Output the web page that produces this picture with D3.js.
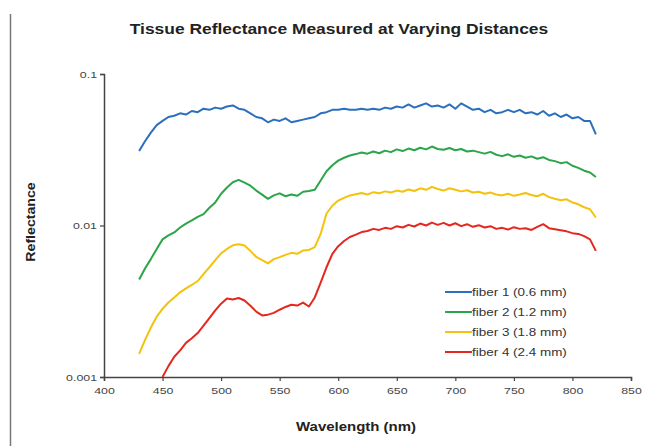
<!DOCTYPE html>
<html>
<head>
<meta charset="utf-8">
<script src="https://cdn.jsdelivr.net/npm/d3@7"></script>
<style>
  body { margin: 0; background: #fff; }
  text { font-family: "Liberation Sans", Arial, sans-serif; }
</style>
</head>
<body>
<svg id="chart" width="660" height="446"></svg>
<script>
// wavelengths every 5 nm
const wlMain = d3.range(430, 821, 5)
const wlRed = d3.range(450, 821, 5)

const fiber1 = [0.031, 0.036, 0.041, 0.046, 0.049, 0.052, 0.053, 0.055, 0.054, 0.057,
  0.056, 0.059, 0.058, 0.060, 0.059, 0.061, 0.062, 0.059, 0.058, 0.055,
  0.052, 0.051, 0.048, 0.050, 0.049, 0.051, 0.048, 0.049, 0.050, 0.051,
  0.052, 0.055, 0.056, 0.058, 0.058, 0.059, 0.058, 0.058, 0.059, 0.058,
  0.059, 0.058, 0.060, 0.059, 0.061, 0.060, 0.063, 0.060, 0.062, 0.064,
  0.061, 0.062, 0.060, 0.063, 0.059, 0.064, 0.061, 0.058, 0.059, 0.056,
  0.058, 0.055, 0.056, 0.058, 0.056, 0.058, 0.055, 0.056, 0.054, 0.057,
  0.053, 0.055, 0.052, 0.054, 0.051, 0.052, 0.049, 0.049, 0.040]

const fiber2 = [0.0044, 0.0052, 0.0060, 0.0070, 0.0081, 0.0086, 0.0090, 0.0097, 0.0103, 0.0108,
  0.0114, 0.0119, 0.0131, 0.0142, 0.0162, 0.0178, 0.0193, 0.0200, 0.0192, 0.0183,
  0.0170, 0.0160, 0.0150, 0.0158, 0.0163, 0.0156, 0.0160, 0.0157, 0.0167, 0.0169,
  0.0172, 0.0198, 0.0228, 0.0250, 0.0268, 0.0280, 0.0290, 0.0296, 0.0303, 0.0298,
  0.0308, 0.0300, 0.0312, 0.0305, 0.0318, 0.0310, 0.0322, 0.0314, 0.0326, 0.0318,
  0.0332, 0.0320, 0.0316, 0.0325, 0.0314, 0.0320, 0.0308, 0.0312, 0.0305, 0.0298,
  0.0306, 0.0293, 0.0287, 0.0295, 0.0284, 0.0290, 0.0280, 0.0286, 0.0276, 0.0282,
  0.0271, 0.0266, 0.0258, 0.0262, 0.0248, 0.0240, 0.0230, 0.0224, 0.0209]

const fiber3 = [0.00142, 0.00175, 0.00212, 0.00250, 0.00282, 0.00310, 0.00335, 0.00362, 0.00385, 0.00405,
  0.00430, 0.00478, 0.00530, 0.00590, 0.00655, 0.00700, 0.00740, 0.00752, 0.00738, 0.00680,
  0.00620, 0.00590, 0.00562, 0.00600, 0.00618, 0.00640, 0.00660, 0.00650, 0.00685, 0.00690,
  0.00720, 0.00880, 0.01200, 0.01350, 0.01460, 0.01520, 0.01580, 0.01610, 0.01640, 0.01600,
  0.01660, 0.01630, 0.01680, 0.01650, 0.01700, 0.01670, 0.01730, 0.01690, 0.01760, 0.01720,
  0.01800, 0.01740, 0.01700, 0.01760, 0.01720, 0.01680, 0.01710, 0.01650, 0.01670, 0.01620,
  0.01650, 0.01600, 0.01580, 0.01620, 0.01570, 0.01600, 0.01640, 0.01590, 0.01560, 0.01620,
  0.01540, 0.01500, 0.01470, 0.01490, 0.01420, 0.01380, 0.01320, 0.01280, 0.01130]

const fiber4 = [0.00100, 0.00118, 0.00136, 0.00150, 0.00168, 0.00180, 0.00195, 0.00218, 0.00245, 0.00275,
  0.00305, 0.00330, 0.00325, 0.00332, 0.00320, 0.00295, 0.00270, 0.00255, 0.00258, 0.00265,
  0.00278, 0.00290, 0.00300, 0.00296, 0.00310, 0.00292, 0.00335, 0.00420, 0.00530, 0.00650,
  0.00730, 0.00790, 0.00840, 0.00870, 0.00905, 0.00920, 0.00950, 0.00935, 0.00965, 0.00950,
  0.00990, 0.00970, 0.01010, 0.00985, 0.01030, 0.01000, 0.01045, 0.01010, 0.01040, 0.01000,
  0.01035, 0.00990, 0.01020, 0.00980, 0.01005, 0.00970, 0.00990, 0.00950, 0.00965, 0.00940,
  0.00975, 0.00950, 0.00960, 0.00935, 0.00980, 0.01020, 0.00960, 0.00945, 0.00930, 0.00915,
  0.00890, 0.00880, 0.00850, 0.00810, 0.00680]

const seriesNames = ['fiber 1 (0.6 mm)', 'fiber 2 (1.2 mm)', 'fiber 3 (1.8 mm)', 'fiber 4 (2.4 mm)']
const seriesColors = ['#2b6fbd', '#2aa54a', '#f4c20d', '#e5281f']
const xTicks = [400, 450, 500, 550, 600, 650, 700, 750, 800, 850]
const yTicks = [0.001, 0.01, 0.1]

const series = [
  { name: seriesNames[0], color: seriesColors[0], wl: wlMain, v: fiber1 },
  { name: seriesNames[1], color: seriesColors[1], wl: wlMain, v: fiber2 },
  { name: seriesNames[2], color: seriesColors[2], wl: wlMain, v: fiber3 },
  { name: seriesNames[3], color: seriesColors[3], wl: wlRed, v: fiber4 }
]

const svg = d3.select('#chart')
const margin = { top: 74, right: 29, bottom: 69, left: 104 }
const width = 660
const height = 446

const x = d3.scaleLinear().domain([400, 850]).range([margin.left, width - margin.right])
const y = d3.scaleLog().domain([0.001, 0.1]).range([height - margin.bottom, margin.top])

// the source picture is stretched sideways, so widen the text to match
function stretch(sel, k) {
  sel.each(function() {
    const w = this.getComputedTextLength()
    d3.select(this).attr('textLength', w * k).attr('lengthAdjust', 'spacingAndGlyphs')
  })
}

// left frame line of the page
svg.append('line')
  .attr('x1', 10.5).attr('x2', 10.5)
  .attr('y1', 14).attr('y2', height)
  .attr('stroke', '#777').attr('stroke-width', 1.5)

svg.append('text')
  .attr('x', 339).attr('y', 34)
  .attr('text-anchor', 'middle')
  .style('font-size', '15px').style('font-weight', 'bold')
  .attr('fill', '#222')
  .text('Tissue Reflectance Measured at Varying Distances')
  .call(stretch, 1.16)

const xAxis = svg.append('g')
  .attr('transform', `translate(0,${height - margin.bottom})`)
  .call(d3.axisBottom(x).tickValues(xTicks).tickSize(4).tickFormat(d3.format('d')))
const yAxis = svg.append('g')
  .attr('transform', `translate(${margin.left},0)`)
  .call(d3.axisLeft(y).tickValues(yTicks).tickSize(4).tickFormat(d => String(d)))

;[xAxis, yAxis].forEach(g => {
  g.select('.domain').attr('stroke', '#444').attr('stroke-width', 1.5)
  g.selectAll('.tick line').attr('stroke', '#444').attr('stroke-width', 1.2)
  g.selectAll('.tick text')
    .attr('fill', '#444')
    .style('font-family', '"Liberation Sans", Arial, sans-serif')
    .style('font-size', '9.5px')
    .call(stretch, 1.3)
})
xAxis.selectAll('.tick text').attr('dy', '1.05em')

svg.append('text')
  .attr('x', 356).attr('y', 431)
  .attr('text-anchor', 'middle')
  .style('font-size', '13px').style('font-weight', 'bold')
  .attr('fill', '#222')
  .text('Wavelength (nm)')
  .call(stretch, 1.15)

svg.append('text')
  .attr('transform', 'translate(35,222) rotate(-90)')
  .attr('text-anchor', 'middle')
  .style('font-size', '12.5px').style('font-weight', 'bold')
  .attr('fill', '#222')
  .text('Reflectance')
  .call(stretch, 1.13)

const line = d3.line()
  .x(d => x(d[0]))
  .y(d => y(d[1]))

svg.append('defs').append('clipPath').attr('id', 'plot-clip')
  .append('rect')
  .attr('x', margin.left).attr('y', margin.top - 10)
  .attr('width', width - margin.left - margin.right)
  .attr('height', height - margin.bottom - margin.top + 10)

svg.append('g')
  .attr('clip-path', 'url(#plot-clip)')
  .selectAll('path')
  .data(series)
  .join('path')
  .attr('d', s => line(s.wl.map((w, i) => [w, s.v[i]])))
  .attr('fill', 'none')
  .attr('stroke', s => s.color)
  .attr('stroke-width', 2)
  .attr('stroke-linejoin', 'round')

const legend = svg.append('g').attr('transform', 'translate(445,292)')
const rows = legend.selectAll('g')
  .data(series)
  .join('g')
  .attr('transform', (d, i) => `translate(0,${i * 20})`)
rows.append('line')
  .attr('x1', 0).attr('x2', 27)
  .attr('stroke', d => d.color).attr('stroke-width', 2)
rows.append('text')
  .attr('x', 27).attr('dy', '0.35em')
  .style('font-size', '10.5px')
  .attr('fill', '#333')
  .text(d => d.name)
  .call(stretch, 1.28)
</script>
</body>
</html>
